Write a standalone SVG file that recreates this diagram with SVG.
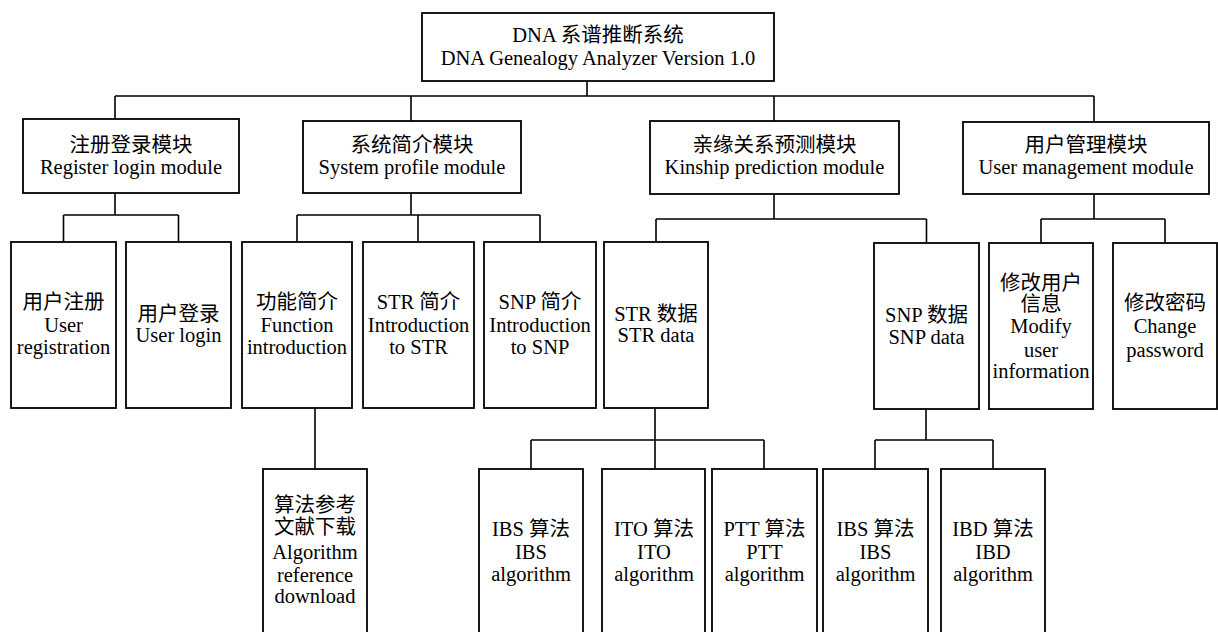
<svg xmlns="http://www.w3.org/2000/svg" width="1218" height="632" viewBox="0 0 1218 632">
<style>
  .box { fill: #fff; stroke: #000; stroke-width: 1.8; }
  .t { font-family: "Liberation Serif", "Noto Sans CJK SC", serif; font-size: 20.5px; fill: #000; text-anchor: middle; }
  .conn { fill: none; stroke: #000; stroke-width: 1.6; }
</style>
<rect width="1218" height="632" fill="#fff"/>
<g id="connectors" class="conn">
  <path d="M587 81 V96 M115 96 H1094 M115 96 V119 M411 96 V121 M774 96 V121 M1094 96 V122"/>
  <path d="M115 193 V215 M63.5 215 H178.5 M63.5 215 V242 M178.5 215 V242"/>
  <path d="M411 193 V215 M297 215 H540 M297 215 V242 M418 215 V242 M540 215 V242"/>
  <path d="M774 194 V219 M656 219 H926.5 M656 219 V242 M926.5 219 V243"/>
  <path d="M1094 194 V219 M1041 219 H1165 M1041 219 V243 M1165 219 V243"/>
  <path d="M315 408 V469"/>
  <path d="M655 408 V440 M531 440 H764 M531 440 V469 M655 440 V469 M764 440 V469"/>
  <path d="M926 409 V440 M875 440 H993 M875 440 V469 M993 440 V469"/>
</g>
<g id="root">
  <rect class="box" x="422" y="13" width="352" height="68"/>
  <text class="t" x="598" y="42">DNA 系谱推断系统</text>
  <text class="t" x="598" y="65">DNA Genealogy Analyzer Version 1.0</text>
</g>
<g id="m-register">
  <rect class="box" x="23" y="119" width="216" height="74"/>
  <text class="t" x="131" y="152">注册登录模块</text>
  <text class="t" x="131" y="174">Register login module</text>
</g>
<g id="m-profile">
  <rect class="box" x="303" y="121" width="218" height="72"/>
  <text class="t" x="412" y="152">系统简介模块</text>
  <text class="t" x="412" y="174">System profile module</text>
</g>
<g id="m-kinship">
  <rect class="box" x="650" y="121" width="249" height="73"/>
  <text class="t" x="774.5" y="152">亲缘关系预测模块</text>
  <text class="t" x="774.5" y="174">Kinship prediction module</text>
</g>
<g id="m-user">
  <rect class="box" x="963" y="122" width="246" height="72"/>
  <text class="t" x="1086" y="152">用户管理模块</text>
  <text class="t" x="1086" y="174">User management module</text>
</g>
<g id="n-reg">
  <rect class="box" x="11" y="242" width="105" height="166"/>
  <text class="t" x="63.5" y="309">用户注册</text>
  <text class="t" x="63.5" y="332">User</text>
  <text class="t" x="63.5" y="354">registration</text>
</g>
<g id="n-login">
  <rect class="box" x="126" y="242" width="105" height="166"/>
  <text class="t" x="178.5" y="321">用户登录</text>
  <text class="t" x="178.5" y="342">User login</text>
</g>
<g id="n-func">
  <rect class="box" x="242" y="242" width="110" height="166"/>
  <text class="t" x="297" y="309">功能简介</text>
  <text class="t" x="297" y="332">Function</text>
  <text class="t" x="297" y="354">introduction</text>
</g>
<g id="n-str-intro">
  <rect class="box" x="363" y="242" width="111" height="166"/>
  <text class="t" x="418.5" y="309">STR 简介</text>
  <text class="t" x="418.5" y="332">Introduction</text>
  <text class="t" x="418.5" y="354">to STR</text>
</g>
<g id="n-snp-intro">
  <rect class="box" x="484" y="242" width="112" height="166"/>
  <text class="t" x="540" y="309">SNP 简介</text>
  <text class="t" x="540" y="332">Introduction</text>
  <text class="t" x="540" y="354">to SNP</text>
</g>
<g id="n-str-data">
  <rect class="box" x="604" y="242" width="104" height="166"/>
  <text class="t" x="656" y="321">STR 数据</text>
  <text class="t" x="656" y="342">STR data</text>
</g>
<g id="n-snp-data">
  <rect class="box" x="874" y="243" width="105" height="166"/>
  <text class="t" x="926.5" y="322">SNP 数据</text>
  <text class="t" x="926.5" y="344">SNP data</text>
</g>
<g id="n-modify">
  <rect class="box" x="989" y="243" width="104" height="166"/>
  <text class="t" x="1041" y="290">修改用户</text>
  <text class="t" x="1041" y="311">信息</text>
  <text class="t" x="1041" y="333">Modify</text>
  <text class="t" x="1041" y="357">user</text>
  <text class="t" x="1041" y="378">information</text>
</g>
<g id="n-password">
  <rect class="box" x="1113" y="243" width="104" height="166"/>
  <text class="t" x="1165" y="310">修改密码</text>
  <text class="t" x="1165" y="333">Change</text>
  <text class="t" x="1165" y="357">password</text>
</g>
<g id="n-download">
  <rect class="box" x="263" y="469" width="104" height="175"/>
  <text class="t" x="315" y="512">算法参考</text>
  <text class="t" x="315" y="534">文献下载</text>
  <text class="t" x="315" y="559">Algorithm</text>
  <text class="t" x="315" y="582">reference</text>
  <text class="t" x="315" y="603">download</text>
</g>
<g id="n-ibs1">
  <rect class="box" x="479" y="469" width="104" height="175"/>
  <text class="t" x="531" y="536">IBS 算法</text>
  <text class="t" x="531" y="559">IBS</text>
  <text class="t" x="531" y="581">algorithm</text>
</g>
<g id="n-ito">
  <rect class="box" x="602" y="469" width="103" height="175"/>
  <text class="t" x="654" y="536">ITO 算法</text>
  <text class="t" x="654" y="559">ITO</text>
  <text class="t" x="654" y="581">algorithm</text>
</g>
<g id="n-ptt">
  <rect class="box" x="712" y="469" width="105" height="175"/>
  <text class="t" x="764.5" y="536">PTT 算法</text>
  <text class="t" x="764.5" y="559">PTT</text>
  <text class="t" x="764.5" y="581">algorithm</text>
</g>
<g id="n-ibs2">
  <rect class="box" x="823" y="469" width="105" height="175"/>
  <text class="t" x="875.5" y="536">IBS 算法</text>
  <text class="t" x="875.5" y="559">IBS</text>
  <text class="t" x="875.5" y="581">algorithm</text>
</g>
<g id="n-ibd">
  <rect class="box" x="941" y="469" width="104" height="175"/>
  <text class="t" x="993" y="536">IBD 算法</text>
  <text class="t" x="993" y="559">IBD</text>
  <text class="t" x="993" y="581">algorithm</text>
</g>
</svg>
